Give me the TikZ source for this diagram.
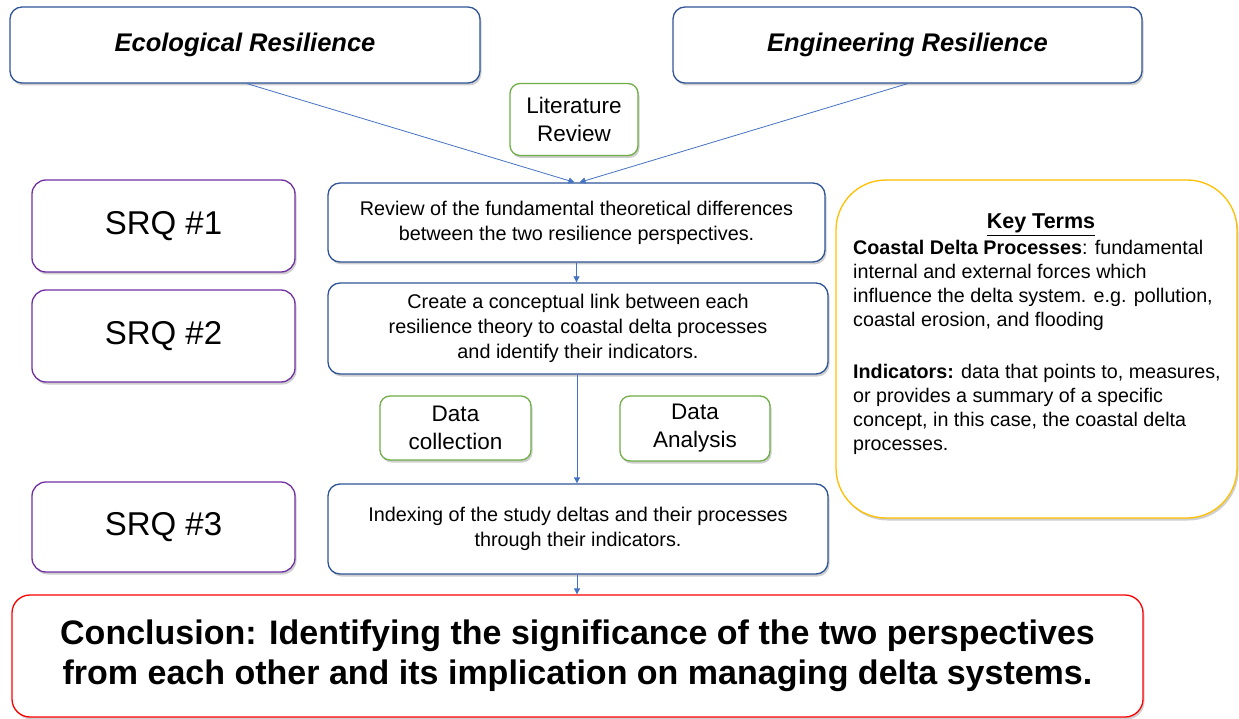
\documentclass[tikz,border=0pt]{standalone}
\usepackage{fontspec}
\setmainfont{Liberation Sans}
\usetikzlibrary{shadows,arrows.meta}

\definecolor{boxblue}{HTML}{2F5597}
\definecolor{lineblue}{HTML}{4472C4}
\definecolor{boxgreen}{HTML}{70AD47}
\definecolor{boxpurple}{HTML}{7030A0}
\definecolor{boxred}{HTML}{FF0000}
\definecolor{boxgold}{HTML}{FFC000}

\newcommand{\fs}[2]{\fontsize{#1}{#2}\selectfont}

\begin{document}
\begin{tikzpicture}[x=1pt,y=-1pt,
  card/.style={draw, fill=white, line width=1.3pt, rounded corners=12pt,
    align=center, inner sep=0pt,
    drop shadow={shadow xshift=1.5pt, shadow yshift=-2.5pt, opacity=0.35, fill=black!55}},
  bluecard/.style={card, draw=boxblue},
  greencard/.style={card, draw=boxgreen, rounded corners=10pt, font=\fs{22.5}{28}},
  purplecard/.style={card, draw=boxpurple, rounded corners=14pt, font=\fs{33}{38}},
  stepcard/.style={bluecard, font=\fs{19.8}{25}},
  arr/.style={draw=lineblue, line width=0.8pt, -{Triangle[width=6pt,length=6pt]}}
]
\useasboundingbox (0,0) rectangle (1239,719);

% theory boxes
\node[bluecard, font=\fs{25.5}{30}\bfseries\itshape, minimum width=470pt, minimum height=76pt] (eco) at (245,45)
  {Ecological Resilience};
\node[bluecard, font=\fs{25.5}{30}\bfseries\itshape, minimum width=469pt, minimum height=76pt] (eng) at (907.5,45)
  {Engineering Resilience};

% method boxes
\node[greencard, minimum width=128pt, minimum height=72pt] (lit) at (574,119.5)
  {Literature\\Review};
\node[greencard, minimum width=151pt, minimum height=64pt] (dc) at (455.5,428)
  {Data\\collection};
\node[greencard, minimum width=150pt, minimum height=65pt] (da) at (695,428.5)
  {Data\\Analysis};

% research question labels
\node[purplecard, minimum width=263pt, minimum height=92pt] (srq1) at (163.5,226) {SRQ \#1};
\node[purplecard, minimum width=263pt, minimum height=92pt] (srq2) at (163.5,336) {SRQ \#2};
\node[purplecard, minimum width=263pt, minimum height=90pt] (srq3) at (163.5,527) {SRQ \#3};

% research steps
\node[stepcard, minimum width=497pt, minimum height=79pt] (rev) at (576.5,222.5)
  {Review of the fundamental theoretical differences\\between the two resilience perspectives.};
\node[stepcard, minimum width=500pt, minimum height=91pt] (cre) at (578,328.5)
  {Create a conceptual link between each\\resilience theory to coastal delta processes\\and identify their indicators.};
\node[stepcard, minimum width=500pt, minimum height=90pt] (idx) at (578,529)
  {Indexing of the study deltas and their processes\\through their indicators.};

% conclusion
\node[card, draw=boxred, rounded corners=18pt, font=\fs{34}{40}\bfseries,
      minimum width=1131pt, minimum height=122pt] (con) at (577.5,656)
  {Conclusion: Identifying the significance of the two perspectives\\from each other and its implication on managing delta systems.};

% key terms panel
\node[card, draw=boxgold, rounded corners=50pt, minimum width=401pt, minimum height=338pt] (key) at (1036.5,349) {};
\node[anchor=base, inner sep=0pt, font=\fs{21.5}{26}\bfseries] (keytitle) at (1041,229)
  {\underline{Key Terms}};
\node[anchor=north west, inner sep=0pt, align=left, font=\fs{19.7}{24}] (keybody) at (853,240.5)
  {\textbf{Coastal Delta Processes}: fundamental\\
   internal and external forces which\\
   influence the delta system. e.g. pollution,\\
   coastal erosion, and flooding\\[28pt]
   \textbf{Indicators:} data that points to, measures,\\
   or provides a summary of a specific\\
   concept, in this case, the coastal delta\\
   processes.};

% connectors
\draw[arr] ([xshift=2pt]eco.south) -- ([xshift=-2pt]rev.north);
\draw[arr] (eng.south) -- ([xshift=3pt]rev.north);
\draw[arr] (rev.south) -- (rev.south |- cre.north);
\draw[arr] ([xshift=-1pt]cre.south) -- ([xshift=-1pt]idx.north);
\draw[arr] ([xshift=-1pt]idx.south) -- ([xshift=-1pt]idx.south |- con.north);
\end{tikzpicture}
\end{document}
